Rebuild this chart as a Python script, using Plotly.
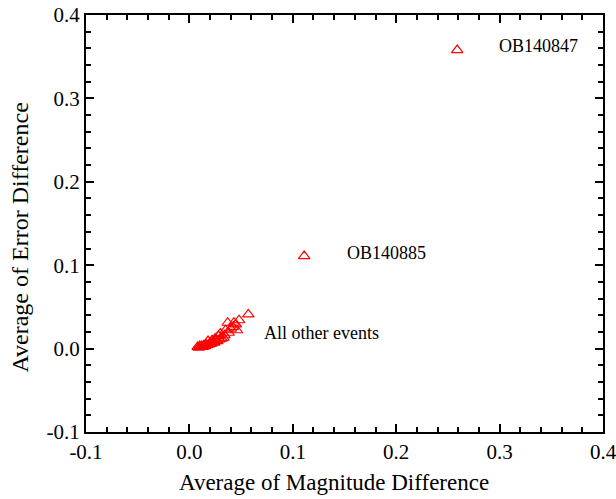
import plotly.graph_objects as go

# Data
other_x = [0.057, 0.048, 0.043, 0.037, 0.046, 0.040, 0.035, 0.030, 0.033, 0.028,
           0.025, 0.022, 0.027, 0.018, 0.020, 0.024, 0.016, 0.014, 0.012, 0.010,
           0.008, 0.009, 0.011, 0.013, 0.015, 0.017, 0.019, 0.021, 0.023, 0.026,
           0.029, 0.031, 0.034, 0.038, 0.042, 0.045]
other_y = [0.041, 0.034, 0.031, 0.031, 0.022, 0.024, 0.022, 0.018, 0.013, 0.015,
           0.012, 0.010, 0.009, 0.009, 0.006, 0.007, 0.005, 0.004, 0.003, 0.003,
           0.002, 0.001, 0.002, 0.002, 0.003, 0.004, 0.005, 0.006, 0.008, 0.010,
           0.011, 0.012, 0.016, 0.019, 0.026, 0.029]

special_names = ["OB140847", "OB140885"]
special_x = [0.259, 0.111]
special_y = [0.358, 0.111]

label_texts = ["OB140847", "OB140885", "All other events"]
label_x = [0.297, 0.150, 0.070]
label_y = [0.363, 0.115, 0.019]

tick_vals = [-0.1, 0.0, 0.1, 0.2, 0.3, 0.4]
tick_text = ["-0.1", "0.0", "0.1", "0.2", "0.3", "0.4"]
axis_range = [-0.1, 0.4]
minor_step = 0.02

x_title = "Average of Magnitude Difference"
y_title = "Average of Error Difference"

FONT = "Liberation Serif"
RED = "#ff0000"

fig = go.Figure()
fig.add_trace(go.Scatter(
    x=other_x + special_x, y=other_y + special_y, mode="markers",
    marker=dict(symbol="triangle-up-open", size=10, color=RED, line=dict(width=1.2, color=RED)),
    showlegend=False, hoverinfo="skip"))

for t, xx, yy in zip(label_texts, label_x, label_y):
    fig.add_annotation(x=xx, y=yy, text=t, showarrow=False, xanchor="left", yanchor="middle",
                       font=dict(family=FONT, size=18, color="black"))

# axis titles as annotations for precise placement
fig.add_annotation(xref="paper", yref="paper", x=0.48, y=-0.12, text=x_title, showarrow=False,
                   xanchor="center", yanchor="middle", font=dict(family=FONT, size=23, color="black"))
fig.add_annotation(xref="paper", yref="paper", x=-0.128, y=0.466, text=y_title, showarrow=False,
                   textangle=-90, xanchor="center", yanchor="middle", font=dict(family=FONT, size=24, color="black"))

axis_common = dict(
    range=axis_range, tickmode="array", tickvals=tick_vals, ticktext=tick_text,
    showgrid=False, zeroline=False, showline=True, linecolor="black", linewidth=2,
    mirror="allticks", ticks="inside", ticklen=8, tickwidth=2, tickcolor="black",
    tickfont=dict(family=FONT, size=21, color="black"), automargin=False,
    ticklabeloverflow="allow",
    minor=dict(ticks="inside", ticklen=5, tickwidth=1.5, tickcolor="black", tickmode="linear",
               tick0=axis_range[0], dtick=minor_step, showgrid=False),
)

fig.update_xaxes(**axis_common)
fig.update_yaxes(**axis_common)

fig.update_layout(width=616, height=499, margin=dict(l=86, r=13, t=15, b=67, autoexpand=False),
                  plot_bgcolor="white", paper_bgcolor="white")

fig.write_html("out.html", config={"displayModeBar": False},
               post_script="document.body.style.margin='0';")
